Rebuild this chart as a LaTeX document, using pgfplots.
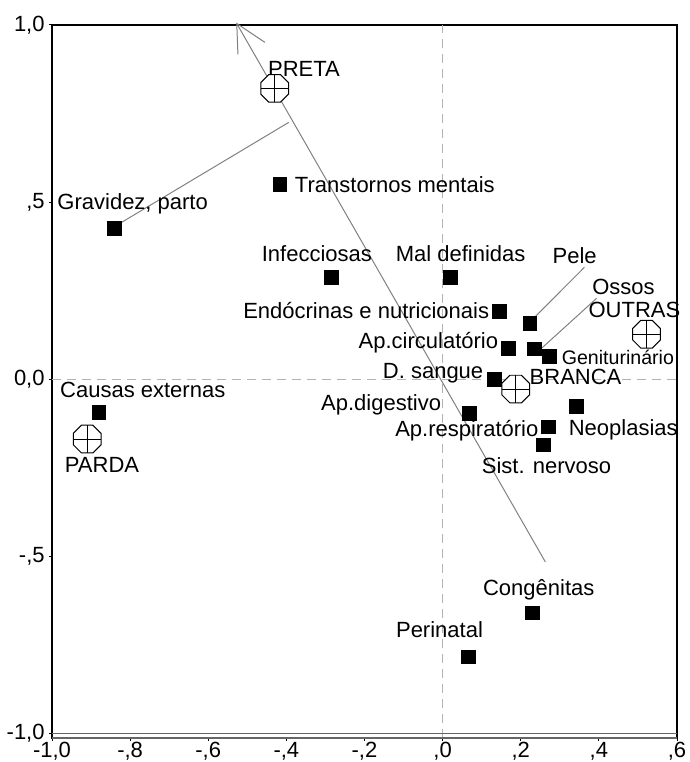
\documentclass[border=0pt]{standalone}
\usepackage{pgfplots}
\pgfplotsset{compat=1.18}
\usepackage{fontspec}
\setmainfont{Liberation Sans}
\pgfdeclareplotmark{octplus}{%
  \pgfpathmoveto{\pgfqpointpolar{22.5}{\pgfplotmarksize}}%
  \pgfpathlineto{\pgfqpointpolar{67.5}{\pgfplotmarksize}}%
  \pgfpathlineto{\pgfqpointpolar{112.5}{\pgfplotmarksize}}%
  \pgfpathlineto{\pgfqpointpolar{157.5}{\pgfplotmarksize}}%
  \pgfpathlineto{\pgfqpointpolar{202.5}{\pgfplotmarksize}}%
  \pgfpathlineto{\pgfqpointpolar{247.5}{\pgfplotmarksize}}%
  \pgfpathlineto{\pgfqpointpolar{292.5}{\pgfplotmarksize}}%
  \pgfpathlineto{\pgfqpointpolar{337.5}{\pgfplotmarksize}}%
  \pgfpathclose
  \pgfusepathqfillstroke
  \pgfpathmoveto{\pgfqpoint{-0.924\pgfplotmarksize}{0pt}}%
  \pgfpathlineto{\pgfqpoint{0.924\pgfplotmarksize}{0pt}}%
  \pgfpathmoveto{\pgfqpoint{0pt}{-0.924\pgfplotmarksize}}%
  \pgfpathlineto{\pgfqpoint{0pt}{0.924\pgfplotmarksize}}%
  \pgfusepathqstroke
}
\begin{document}
\begin{tikzpicture}[font=\fontsize{11bp}{13bp}\selectfont]
\begin{axis}[
  name=ax,
  scale only axis, width=312.5bp, height=356.5bp,
  xmin=-1.0, xmax=0.6, ymin=-1.013, ymax=1.0,
  clip=false,
  axis line style={black, line width=0.6pt},
  tick align=outside, major tick length=1.5bp,
  xtick pos=bottom, ytick pos=left,
  xtick={-1,-0.8,-0.6,-0.4,-0.2,0,0.2,0.4,0.6},
  xticklabels={{-1,0},{-,8},{-,6},{-,4},{-,2},{,0},{,2},{,4},{,6}},
  ytick={-1,-0.5,0,0.5,1},
  yticklabels={{-1,0},{-,5},{0,0},{,5},{1,0}},
  tick style={black, line width=0.5pt},
  xticklabel style={inner sep=0.5bp},
  yticklabel style={inner sep=2bp},
]
% reference lines
\addplot[gray!60, dash pattern=on 4.5bp off 3bp, line width=0.5pt] coordinates {(0,-1.013) (0,1.0)};
\addplot[gray!60, dash pattern=on 4.5bp off 3bp, line width=0.5pt] coordinates {(-1.0,0) (0.6,0)};
\addplot[gray!80!black, line width=0.6pt] coordinates {(-1.0,-1.0) (0.6,-1.0)};
\addplot[gray!80!black, line width=0.6pt] coordinates {(-1.0,-1.013) (0.6,-1.013)};
% arrow and connectors
\addplot[gray, line width=0.5pt] coordinates {(0.263,-0.516) (-0.527,1.004)};
\addplot[gray, line width=0.5pt] coordinates {(-0.524,0.917) (-0.527,1.004) (-0.455,0.951)};
\addplot[gray, line width=0.5pt] coordinates {(-0.826,0.44) (-0.394,0.725)};
\addplot[gray, line width=0.5pt] coordinates {(0.233,0.172) (0.363,0.316)};
\addplot[gray, line width=0.5pt] coordinates {(0.253,0.087) (0.394,0.228)};
% category points
\addplot[only marks, mark=square*, mark size=3.4bp, black,
  mark options={rounded corners=1.2bp}] coordinates {
  (-0.417,0.550) (-0.841,0.426) (-0.284,0.288) (0.020,0.288) (0.146,0.192)
  (0.223,0.158) (0.169,0.087) (0.235,0.085) (0.274,0.065) (0.133,0.0)
  (0.069,-0.096) (0.343,-0.076) (0.271,-0.135) (0.258,-0.186)
  (-0.880,-0.093) (0.230,-0.660) (0.066,-0.784)
};
% group points
\addplot[only marks, mark=octplus, mark size=7.5bp, black, fill=white, line width=0.5pt] coordinates {
  (-0.430,0.821) (0.187,-0.028) (0.522,0.127) (-0.910,-0.169)
};
% labels
\begin{scope}[every node/.style={inner sep=0pt}]
\node at (axis cs:-0.355,0.877) {PRETA};
\node[anchor=west] at (axis cs:-0.379,0.550) {Transtornos mentais};
\node[anchor=west] at (axis cs:-0.987,0.496) {Gravidez, parto};
\node at (axis cs:-0.322,0.355) {Infecciosas};
\node at (axis cs:0.046,0.355) {Mal definidas};
\node at (axis cs:0.338,0.350) {Pele};
\node[anchor=east] at (axis cs:0.120,0.195) {Endócrinas e nutricionais};
\node at (axis cs:0.463,0.260) {Ossos};
\node at (axis cs:0.491,0.195) {OUTRAS};
\node[anchor=east] at (axis cs:0.143,0.104) {Ap.circulatório};
\node[anchor=west, font=\fontsize{9.8bp}{12bp}\selectfont] at (axis cs:0.304,0.062) {Geniturinário};
\node[anchor=east] at (axis cs:0.105,0.017) {D. sangue};
\node[anchor=west] at (axis cs:0.222,0.006) {BRANCA};
\node[anchor=east] at (axis cs:-0.003,-0.073) {Ap.digestivo};
\node[anchor=east] at (axis cs:0.246,-0.144) {Ap.respiratório};
\node[anchor=west] at (axis cs:0.322,-0.144) {Neoplasias};
\node at (axis cs:0.266,-0.243) {Sist. nervoso};
\node[anchor=west] at (axis cs:-0.980,-0.031) {Causas externas};
\node at (axis cs:-0.872,-0.243) {PARDA};
\node at (axis cs:0.246,-0.595) {Congênitas};
\node at (axis cs:-0.008,-0.708) {Perinatal};
\end{scope}
\end{axis}
\pgfresetboundingbox
\path ([xshift=-26bp,yshift=-12bp]ax.south west) rectangle ([xshift=6.5bp,yshift=12.5bp]ax.north east);
\end{tikzpicture}
\end{document}
